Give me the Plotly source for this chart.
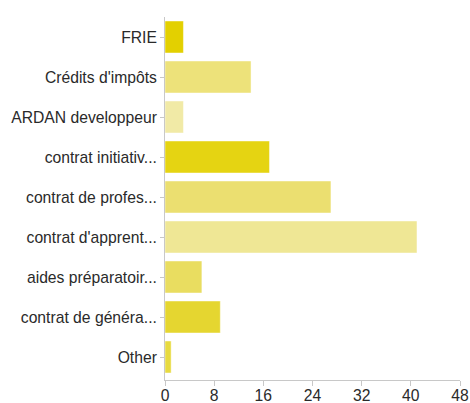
import plotly.graph_objects as go

# Survey answers: number of respondents per scheme
categories = [
    "FRIE",
    "Crédits d'impôts",
    "ARDAN developpeur",
    "contrat initiativ...",
    "contrat de profes...",
    "contrat d'apprent...",
    "aides préparatoir...",
    "contrat de généra...",
    "Other",
]
counts = [3, 14, 3, 17, 27, 41, 6, 9, 1]
bar_colors = [
    "#e3d000",
    "#ede27a",
    "#f1eaa6",
    "#e5d412",
    "#ebdf70",
    "#efe795",
    "#e9dd60",
    "#e5d630",
    "#e7da40",
]
x_ticks = [0, 8, 16, 24, 32, 40, 48]

fig = go.Figure(
    go.Bar(
        x=counts,
        y=categories,
        orientation="h",
        marker=dict(
            color=bar_colors,
            line=dict(color="rgba(255,255,255,0.45)", width=1),
        ),
        hoverinfo="x+y",
    )
)

fig.update_layout(
    width=470,
    height=403,
    margin=dict(l=165, r=10, t=17, b=23),
    paper_bgcolor="white",
    plot_bgcolor="white",
    bargap=0.2,
    showlegend=False,
    font=dict(family="Liberation Sans, Arial, sans-serif", size=15.7, color="#2a2a2a"),
)

fig.update_xaxes(
    range=[0, 48],
    tickvals=x_ticks,
    ticktext=[str(v) for v in x_ticks],
    showgrid=False,
    zeroline=False,
    showline=True,
    linecolor="#c8c8c8",
    linewidth=1,
    ticks="outside",
    ticklen=5,
    tickcolor="#c8c8c8",
    tickfont=dict(size=15.7, color="#2a2a2a"),
    ticklabelstandoff=-4,
    automargin=False,
    fixedrange=True,
)

fig.update_yaxes(
    categoryorder="array",
    categoryarray=categories,
    range=[8.575, -0.5],
    showgrid=False,
    zeroline=False,
    showline=True,
    linecolor="#c8c8c8",
    linewidth=1,
    ticks="outside",
    ticklen=4,
    tickcolor="#c8c8c8",
    tickfont=dict(size=15.7, color="#2a2a2a"),
    automargin=False,
    fixedrange=True,
)

fig.write_html("out.html")
